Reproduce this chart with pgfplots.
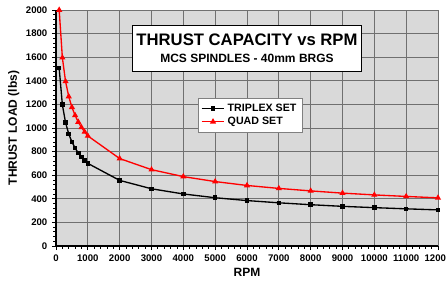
\documentclass[border=0pt]{standalone}
\usepackage{pgfplots}
\pgfplotsset{compat=1.18}
\usepackage{fontspec}
\setmainfont{Liberation Sans}
\usetikzlibrary{calc}
\definecolor{plotbg}{HTML}{D9D9D9}
\definecolor{gridc}{HTML}{707070}
\begin{document}
\begin{tikzpicture}
\begin{axis}[name=ax, scale only axis, width=286.5pt, height=177pt,
 xmin=0, xmax=12000, ymin=0, ymax=2000,
 xtick={0,1000,...,12000}, ytick={0,200,...,2000},
 scaled ticks=false,
 minor x tick num=4, minor y tick num=4,
 grid=major, major grid style={gridc, line width=0.6pt},
 axis background/.style={fill=plotbg},
 axis lines=left, axis line style={-, line width=1.3pt},
 tick align=outside, tick style={black, line width=0.6pt},
 major tick length=3pt, minor tick length=2pt,
 /pgf/number format/assume math mode=true,
 /pgf/number format/1000 sep={},
 ticklabel style={font=\bfseries\fontsize{7.2}{8}\selectfont},
 xlabel={RPM}, ylabel={THRUST LOAD (lbs)},
 label style={font=\bfseries\fontsize{9}{10}\selectfont},
 ylabel style={yshift=-2pt},
 xlabel style={yshift=2pt},
 legend style={at={(0.508,0.555)}, anchor=center, draw=gray, fill=white,
   font=\bfseries\fontsize{8}{9}\selectfont, row sep=-1pt, inner sep=2pt},
 legend cell align=left,
 clip mode=individual,
]
\addplot[black, line width=1pt, mark=square*, mark size=1.2pt] coordinates {
(100,1508) (200,1197) (300,1046) (400,950) (500,882) (600,830) (700,788) (800,754) (900,725) (1000,700)
(2000,556) (3000,485) (4000,441) (5000,409) (6000,385) (7000,366) (8000,350) (9000,336) (10000,325) (11000,315) (12000,306)};
\addlegendentry{TRIPLEX SET}
\addplot[red, line width=1pt, mark=triangle*, mark size=1.7pt] coordinates {
(100,2000) (200,1596) (300,1395) (400,1267) (500,1176) (600,1107) (700,1051) (800,1005) (900,967) (1000,933)
(2000,741) (3000,647) (4000,588) (5000,546) (6000,513) (7000,488) (8000,467) (9000,448) (10000,433) (11000,420) (12000,408)};
\addlegendentry{QUAD SET}
\node[draw=black, line width=0.6pt, fill=white, minimum width=172pt, minimum height=35pt, align=center, inner sep=2pt]
 at (rel axis cs:0.5,0.837) {{\bfseries\fontsize{12.5}{14}\selectfont THRUST CAPACITY vs RPM}\\[1pt]{\bfseries\fontsize{9}{10}\selectfont MCS SPINDLES - 40mm BRGS}};
\end{axis}
\pgfresetboundingbox
\path ($(ax.south west)+(-42pt,-27pt)$) rectangle ($(ax.north east)+(6pt,7.5pt)$);
\end{tikzpicture}
\end{document}
